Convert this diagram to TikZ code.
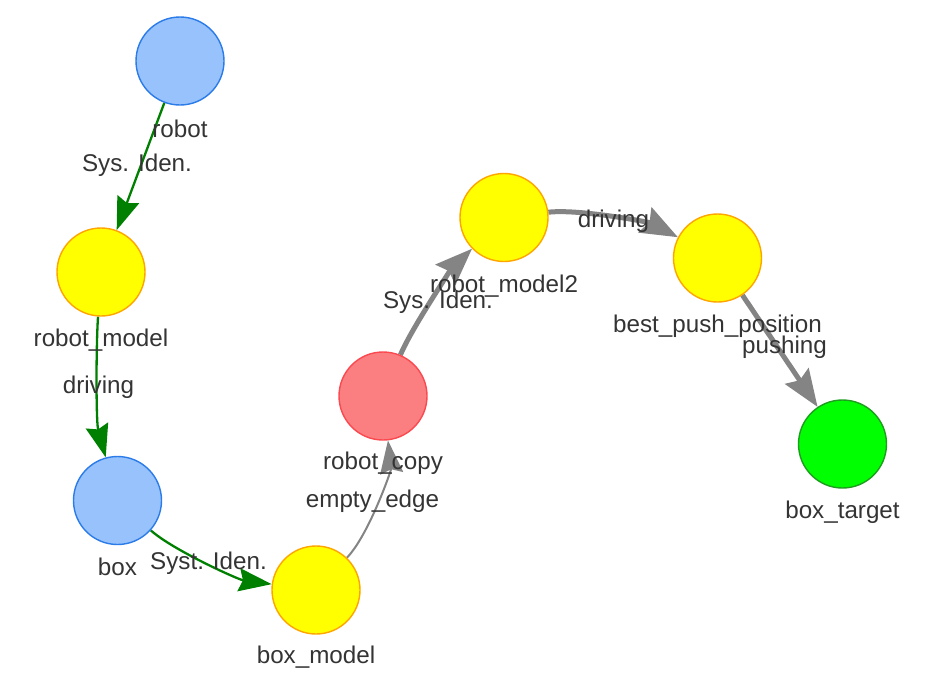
\documentclass[tikz,border=0pt]{standalone}
\usepackage{fontspec}
\setmainfont{Liberation Sans}
\usetikzlibrary{arrows.meta}
\definecolor{txt}{HTML}{343434}
\definecolor{bluefill}{HTML}{97C2FC}
\definecolor{blueline}{HTML}{2B7CE9}
\definecolor{yelfill}{HTML}{FFFF00}
\definecolor{yelline}{HTML}{FFA500}
\definecolor{redfill}{HTML}{FB7E81}
\definecolor{redline}{HTML}{FA4A50}
\definecolor{grnfill}{HTML}{00FF00}
\definecolor{grnline}{HTML}{1E9E1E}
\definecolor{edgegreen}{HTML}{008000}
\definecolor{edgegray}{HTML}{848484}
\pgfdeclarelayer{bg}
\pgfdeclarelayer{edges}
\pgfsetlayers{bg,edges,main}
\tikzset{
  vnode/.style={circle, minimum size=88pt, inner sep=0pt, line width=1.4pt},
  bluen/.style={vnode, fill=bluefill, draw=blueline},
  yeln/.style={vnode, fill=yelfill, draw=yelline},
  redn/.style={vnode, fill=redfill, draw=redline},
  grnn/.style={vnode, fill=grnfill, draw=grnline},
  lbl/.style={anchor=base, inner sep=0pt, text=txt, font=\fontsize{24.2}{28}\selectfont},
  gedge/.style={draw=edgegreen, line width=2.3pt, -{Stealth[length=33pt,width=23pt,inset=4pt]}},
  thinedge/.style={draw=edgegray, line width=2pt, -{Stealth[length=33pt,width=23pt,inset=4pt]}},
  thickedge/.style={draw=edgegray, line width=5pt, -{Stealth[length=37pt,width=28pt,inset=5pt]}}
}
\begin{document}
\begin{tikzpicture}[x=1pt,y=-1pt]
\begin{pgfonlayer}{bg}
\fill[white] (0,0) rectangle (942,680);
\end{pgfonlayer}
\useasboundingbox (0,0) rectangle (942,680);
% nodes
\node[bluen] (robot) at (180,61) {};
\node[yeln] (robotmodel) at (101,272) {};
\node[bluen] (box) at (117.5,500.5) {};
\node[yeln] (boxmodel) at (316,590) {};
\node[redn] (robotcopy) at (383,396) {};
\node[yeln] (robotmodel2) at (504,217.5) {};
\node[yeln] (bestpush) at (717.5,258) {};
\node[grnn] (boxtarget) at (842.5,444) {};
% node labels
\node[lbl] (robotL) at (180,137) {robot};
\node[lbl] (robotmodelL) at (101,346) {robot\_model};
\node[lbl] (boxL) at (117.5,575) {box};
\node[lbl] (boxmodelL) at (316,663) {box\_model};
\node[lbl] (robotcopyL) at (383,469) {robot\_copy};
\node[lbl] (robotmodel2L) at (504,292) {robot\_model2};
\node[lbl] (bestpushL) at (717.5,332) {best\_push\_position};
\node[lbl] (boxtargetL) at (842.5,518) {box\_target};
% edges
\begin{pgfonlayer}{edges}
\draw[gedge] (robot) -- (robotmodel);
\draw[gedge] (robotmodel) .. controls (96,347) and (96,422) .. (box);
\draw[gedge] (box) .. controls (172.7,550) and (238.8,579.8) .. (boxmodel);
\draw[thinedge] (boxmodel) .. controls (369,534.7) and (391.3,470) .. (robotcopy);
\draw[thickedge] (robotcopy) .. controls (412,327.5) and (452.3,268) .. (robotmodel2);
\draw[thickedge] (robotmodel2) .. controls (578.2,208.7) and (649.3,222.2) .. (bestpush);
\draw[thickedge] (bestpush) -- (boxtarget);
\node[lbl] (e1) at (137,171) {Sys. Iden.};
\node[lbl] (e2) at (98.5,393) {driving};
\node[lbl] (e3) at (208.5,569) {Syst. Iden.};
\node[lbl] (e4) at (372.5,507) {empty\_edge};
\node[lbl] (e5) at (438,308) {Sys. Iden.};
\node[lbl] (e6) at (613.5,227) {driving};
\node[lbl] (e7) at (784.5,353) {pushing};
\end{pgfonlayer}
\end{tikzpicture}
\end{document}
